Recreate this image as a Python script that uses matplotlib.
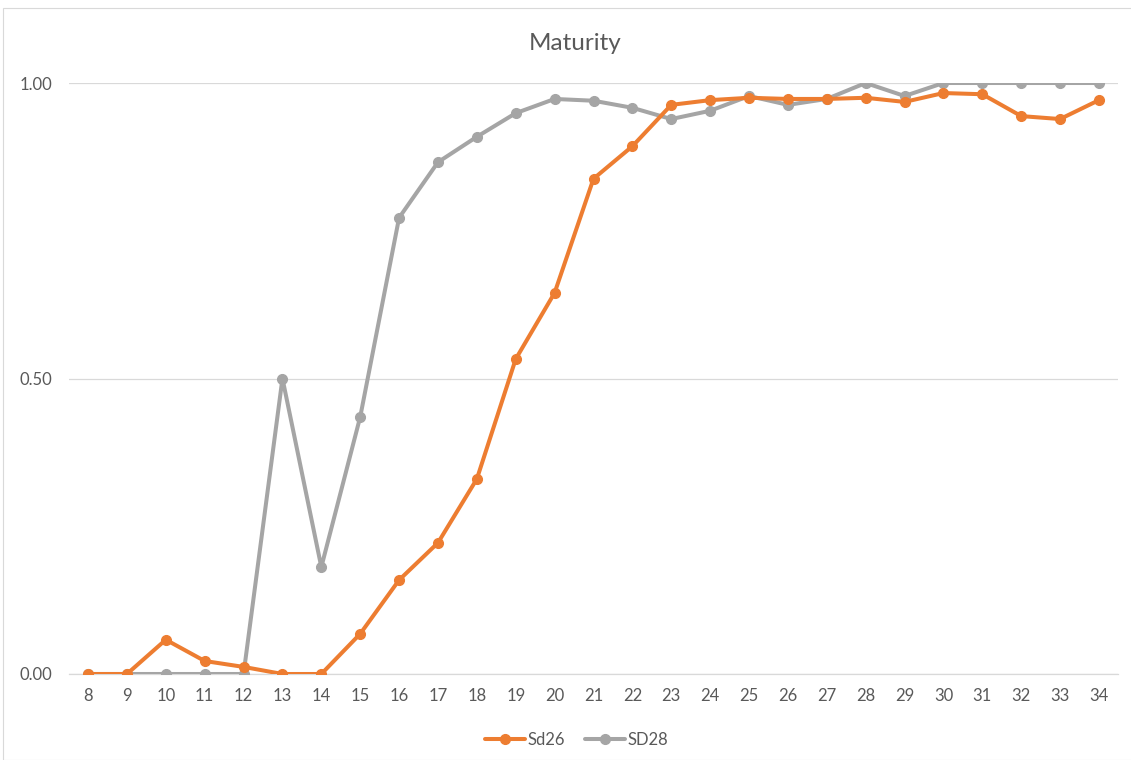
import matplotlib
matplotlib.use("Agg")
import matplotlib.pyplot as plt
from matplotlib.patches import Rectangle

days = list(range(8, 35))
sd26 = [0.0, 0.0, 0.058, 0.022, 0.012, 0.0, 0.0, 0.068, 0.159, 0.222, 0.330,
        0.533, 0.645, 0.838, 0.893, 0.963, 0.971, 0.975, 0.973, 0.973, 0.975,
        0.968, 0.983, 0.981, 0.944, 0.939, 0.971]
sd28 = [0.0, 0.0, 0.0, 0.0, 0.0, 0.5, 0.181, 0.435, 0.772, 0.866, 0.909,
        0.949, 0.973, 0.970, 0.958, 0.939, 0.953, 0.978, 0.963, 0.973, 1.0,
        0.978, 1.0, 1.0, 1.0, 1.0, 1.0]
series_names = ["Sd26", "SD28"]
yticks = [0.0, 0.5, 1.0]

plt.rcParams['font.family'] = ['Lato', 'DejaVu Sans']
W, H = 1131, 760
fig = plt.figure(figsize=(W / 100, H / 100), dpi=100)
fig.patch.set_facecolor('white')
fig.add_artist(Rectangle((3 / W, 0), 1.2, 1 - 8 / H, transform=fig.transFigure,
                         fill=False, edgecolor='#D9D9D9', linewidth=0.8))

ax = fig.add_axes([68.6 / W, 1 - 674 / H, (1118.4 - 68.6) / W, (674 - 83) / H])
ax.set_facecolor('white')
orange = '#ED7D31'
gray = '#A5A5A5'
ax.plot(days, sd26, color=orange, lw=2.9, marker='o', ms=7, label=series_names[0],
        solid_capstyle='round', zorder=4)
ax.plot(days, sd28, color=gray, lw=2.9, marker='o', ms=7, label=series_names[1],
        solid_capstyle='round', zorder=3)

ax.set_xlim(7.5, 34.5)
ax.set_ylim(0, 1.0)
ax.set_xticks(days)
ax.set_xticklabels([str(d) for d in days])
ax.set_yticks(yticks)
ax.set_yticklabels([f"{v:.2f}" for v in yticks])
ax.grid(axis='y', color='#D9D9D9', lw=0.9, zorder=0)
ax.set_axisbelow(True)
for s in ['top', 'right', 'left']:
    ax.spines[s].set_visible(False)
ax.spines['bottom'].set_color('#D9D9D9')
ax.spines['bottom'].set_linewidth(0.9)
ax.tick_params(axis='both', length=0, colors='#595959', labelsize=12)
ax.tick_params(axis='x', pad=10)
ax.tick_params(axis='y', pad=12)
for lbl in ax.get_yticklabels() + ax.get_xticklabels():
    lbl.set_clip_on(False)

fig.text(575 / W, 1 - 43 / H, "Maturity", ha='center', va='center',
         fontsize=17.5, color='#595959')

leg = fig.legend(loc='center', bbox_to_anchor=(577 / W, 1 - 740 / H), ncol=2,
                 frameon=False, fontsize=12, handlelength=2.4, columnspacing=1.2,
                 handletextpad=0.15, labelcolor='#595959')
fig.savefig("out.png", dpi=100, facecolor='white')
